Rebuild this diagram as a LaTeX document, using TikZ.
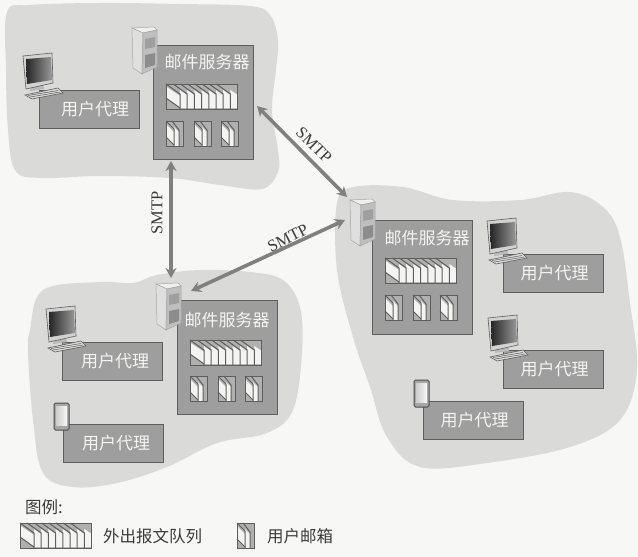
\documentclass[tikz,border=0pt]{standalone}
\usepackage{fontspec}
\setmainfont{Noto Sans CJK SC}
\newfontfamily\smtpfont{Liberation Serif}
\usetikzlibrary{arrows.meta}
\definecolor{paper}{HTML}{F7F7F5}
\definecolor{blobc}{HTML}{DADAD9}
\definecolor{boxc}{HTML}{9E9E9E}
\definecolor{edgec}{HTML}{5E5E5E}
\definecolor{slotc}{HTML}{B0B0B0}
\definecolor{pagec}{HTML}{F4F4F2}
\definecolor{arrowc}{HTML}{808080}
\definecolor{inkc}{HTML}{3A3A3A}
\tikzset{
  x=1pt,y=-1pt,
  blob/.style={fill=blobc,draw=none},
  panel/.style={draw=edgec,line width=1pt,fill=boxc,anchor=north west,inner sep=0pt,outer sep=0pt,text=pagec,font=\fontsize{17}{17}\selectfont},
  agentbox/.style={panel,minimum width=100pt,minimum height=38pt},
  serverbox/.style={panel,minimum width=100pt,minimum height=114pt},
  paneltext/.style={text=pagec,inner sep=0pt,font=\fontsize{17}{17}\selectfont},
  smtplabel/.style={text=inkc,inner sep=0pt,font=\smtpfont\fontsize{16.5}{16.5}\selectfont},
  legendtext/.style={text=inkc,inner sep=0pt,anchor=west,font=\fontsize{16.5}{16.5}\selectfont},
  smtp/.style={draw=arrowc,line width=3.6pt,{Stealth[length=10pt,width=11pt]}-{Stealth[length=10pt,width=11pt]}},
  slot/.style={draw=edgec,line width=1pt,fill=slotc},
  pageln/.style={draw=edgec,line width=1pt},
  hull/.style={inner sep=0pt,outer sep=0pt,minimum width=#1,anchor=north west},
}
\newcommand{\qicon}[2]{%
  \begin{scope}[shift={(#1,#2)}]
    \path[slot] (0,0) rectangle (71,25);
    \foreach \i in {0,...,7}{
      \pgfmathsetmacro{\xa}{14+7.2*\i}
      \pgfmathsetmacro{\xb}{\xa+7.2}
      \path[fill=pagec] (\xa,6) -- (\xb,11) -- (\xb,24) -- (\xa,24) -- cycle;
    }
    \path[fill=pagec] (0,2.5) -- (14,12) -- (14,24) -- (0,14) -- cycle;
    \foreach \i in {0,...,7}{
      \pgfmathsetmacro{\xa}{14+7.2*\i}
      \draw[pageln] (\xa-14,0) -- (\xa,10) -- (\xa,25);
    }
    \draw[pageln] (0,14) -- (14,24);
    \path[draw=edgec,line width=1pt] (0,0) rectangle (71,25);
  \end{scope}}
\newcommand{\mailbx}[2]{%
  \begin{scope}[shift={(#1,#2)}]
    \path[slot] (0,0) rectangle (17,25);
    \path[fill=pagec] (0,3) -- (8,11) -- (8,24) -- (0,16) -- cycle;
    \path[fill=pagec] (8,6) -- (13,11) -- (13,25) -- (8,25) -- cycle;
    \draw[pageln] (0,0) -- (8,8) -- (8,25);
    \draw[pageln] (6,0) -- (13,9) -- (13,25);
    \draw[pageln] (0,16) -- (8,24);
    \path[draw=edgec,line width=1pt] (0,0) rectangle (17,25);
  \end{scope}}
\newcommand{\pcicon}[2]{%
  \begin{scope}[shift={(#1,#2)}]
    \path[fill=gray!55] (8,32) -- (20,30) -- (21,36) -- (7,38) -- cycle;
    \path[draw=edgec,line width=.6pt,fill=gray!35] (0,3) -- (29,0) -- (30,30) -- (3,36) -- cycle;
    \shade[left color=black!85,right color=black!40] (3,6) -- (28,4) -- (29,27) -- (4,31) -- cycle;
    \path[draw=edgec,line width=.6pt,fill=gray!30] (2,42) -- (35,35) -- (40,40) -- (9,46) -- cycle;
    \draw[edgec,line width=.5pt] (5,42.5) -- (35,37.5) (7,44) -- (37,39);
  \end{scope}}
\newcommand{\phoneicon}[2]{%
  \begin{scope}[shift={(#1,#2)}]
    \path[draw=black!70,line width=1pt,fill=gray!70,rounded corners=1.5pt] (0,0) rectangle (15,27);
    \shade[left color=gray!40,right color=gray!5] (2,3) rectangle (13,22);
  \end{scope}}
\newcommand{\srvicon}[3]{%
  \begin{scope}[shift={(#2,#3)}]
    \node[hull=25pt,minimum height=48pt] (#1) at (0,0) {};
    \path[draw=gray!70,line width=.5pt,fill=gray!12] (0,1) -- (22,0) -- (25,3) -- (11,6) -- cycle;
    \path[draw=gray!70,line width=.5pt,fill=gray!25] (0,1) -- (11,6) -- (10,47) -- (1,41) -- cycle;
    \path[draw=gray!70,line width=.5pt,fill=gray!50] (11,6) -- (25,3) -- (25,40) -- (10,47) -- cycle;
    \path[fill=gray!75] (13,12) -- (23,10) -- (23,20) -- (13,22) -- cycle;
    \path[fill=gray!90] (13,28) -- (23,26) -- (23,38) -- (13,41) -- cycle;
  \end{scope}}
\begin{document}
\begin{tikzpicture}
\useasboundingbox (0,0) rectangle (638,557);
\path[fill=paper] (0,0) rectangle (638,557);
% clouds
\path[blob] plot[smooth cycle,tension=.6] coordinates {(7,12) (30,5) (100,3) (180,4) (250,6) (270,15) (278,40) (276,70) (272,110) (278,150) (278,172) (262,189) (220,185) (170,178) (100,176) (40,178) (15,170) (8,130) (6,70)};
\path[blob] plot[smooth cycle,tension=.6] coordinates {(30,330) (43,290) (100,282) (133,283) (157,275) (200,270) (250,272) (283,280) (300,307) (302,353) (293,410) (267,433) (217,443) (167,467) (117,483) (73,487) (43,473) (33,420) (28,353)};
\path[blob] plot[smooth cycle,tension=.6] coordinates {(337,203) (353,187) (403,187) (453,200) (520,200) (570,192) (603,207) (620,237) (630,303) (637,370) (620,420) (570,447) (487,463) (420,467) (387,437) (370,387) (353,337) (337,270)};
% top-left network
\node[serverbox] (boxA) at (153,45) {};
\node[paneltext] (nameA) at (207,62) {邮件服务器};
\qicon{166}{84}
\mailbx{166}{121}\mailbx{194}{121}\mailbx{221}{121}
\srvicon{iconA}{132}{27}
\node[agentbox] (agentA) at (39,90) {\hspace{12pt}用户代理};
\pcicon{23}{53}
% bottom-left network
\node[serverbox] (boxB) at (177,300) {};
\node[paneltext] (nameB) at (227,320) {邮件服务器};
\qicon{190}{340}
\mailbx{190}{376}\mailbx{218}{376}\mailbx{245}{376}
\srvicon{iconB}{156}{283}
\node[agentbox] (agentB) at (62,342) {\hspace{6pt}用户代理};
\pcicon{46}{306}
\node[agentbox] (agentC) at (63,424) {\hspace{6pt}用户代理};
\phoneicon{54}{403}
% right network
\node[serverbox] (boxC) at (372,220) {};
\node[paneltext] (nameC) at (427,238) {邮件服务器};
\qicon{385}{258}
\mailbx{385}{295}\mailbx{413}{295}\mailbx{440}{295}
\srvicon{iconC}{350}{199}
\node[agentbox] (agentD) at (503,254) {\hspace{3pt}用户代理};
\pcicon{487}{218}
\node[agentbox] (agentE) at (503,350) {\hspace{3pt}用户代理};
\pcicon{488}{315}
\node[agentbox] (agentF) at (423,401) {\hspace{3pt}用户代理};
\phoneicon{414}{380}
% SMTP connectors
\draw[smtp] ([xshift=18pt,yshift=-2pt]boxA.south west) -- ([xshift=2.5pt,yshift=5pt]iconB.north);
\draw[smtp] ([xshift=4pt,yshift=-4pt]boxA.east) -- ([xshift=-3pt,yshift=2pt]iconC.north west);
\draw[smtp] ([xshift=10pt,yshift=-8pt]iconB.north east) -- ([xshift=-5pt,yshift=3pt]iconC.west);
\node[smtplabel,rotate=90] (smtpV) at (157,213) {SMTP};
\node[smtplabel,rotate=-45] (smtpD) at (314,145) {SMTP};
\node[smtplabel,rotate=27] (smtpH) at (288,238) {SMTP};
% legend
\node[legendtext] (legendT) at (25,507) {图例:};
\qicon{20}{523}
\node[legendtext] (legendQ) at (103,536) {外出报文队列};
\mailbx{237}{523}
\node[legendtext] (legendM) at (267,536) {用户邮箱};
\end{tikzpicture}
\end{document}
